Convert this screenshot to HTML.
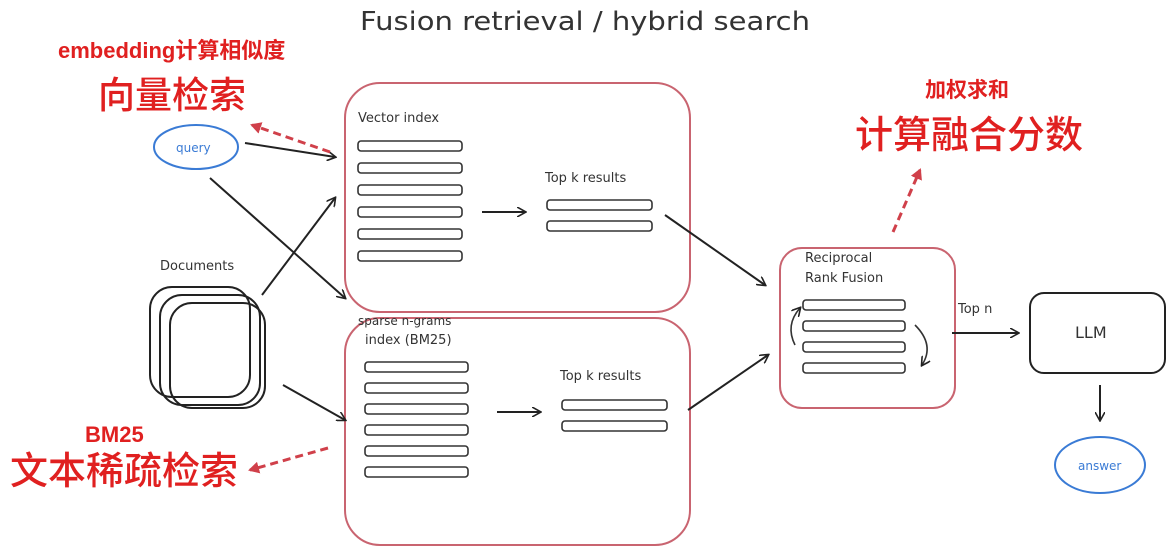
<!DOCTYPE html>
<html><head><meta charset="utf-8"><style>
html,body{margin:0;padding:0;background:#fff;width:1175px;height:551px;overflow:hidden}
svg{display:block}
.h{font-family:"DejaVu Sans","Liberation Sans",sans-serif;fill:#333}
.r{font-family:"Liberation Sans","Noto Sans CJK SC",sans-serif;fill:#e02020;font-weight:bold}
.rn{font-family:"Noto Sans CJK SC",sans-serif;fill:#e02020;font-weight:500}
</style></head><body>
<svg width="1175" height="551" viewBox="0 0 1175 551">
<defs>
<marker id="a" markerWidth="10" markerHeight="10" refX="8" refY="5" orient="auto" markerUnits="userSpaceOnUse"><path d="M0,0 L9,5 L0,10" fill="none" stroke="#222" stroke-width="1.6"/></marker>
<marker id="ra" markerWidth="12" markerHeight="12" refX="9" refY="6" orient="auto" markerUnits="userSpaceOnUse"><path d="M0,0 L11,6 L0,12 Z" fill="#d0404a"/></marker>
</defs>
<text x="360" y="30" class="h" font-size="26" textLength="450" lengthAdjust="spacingAndGlyphs">Fusion retrieval / hybrid search</text>
<text x="58" y="58" class="r" font-size="22">embedding计算相似度</text>
<text x="98" y="108" class="rn" font-size="37">向量检索</text>
<text x="925" y="97" class="r" font-size="21">加权求和</text>
<text x="855" y="148" class="rn" font-size="38">计算融合分数</text>
<text x="85" y="442" class="r" font-size="22">BM25</text>
<text x="10" y="484" class="rn" font-size="38">文本稀疏检索</text>

<ellipse cx="196" cy="147" rx="42" ry="22" fill="none" stroke="#3a7bd5" stroke-width="2"/>
<text x="176" y="152" class="h" font-size="12" style="fill:#3a7bd5">query</text>

<rect x="345" y="83" width="345" height="229" rx="35" fill="none" stroke="#c96470" stroke-width="2"/>
<text x="358" y="122" class="h" font-size="13">Vector index</text>
<g fill="none" stroke="#333" stroke-width="1.6">
<rect x="358" y="141" width="104" height="10" rx="3"/><rect x="358" y="163" width="104" height="10" rx="3"/><rect x="358" y="185" width="104" height="10" rx="3"/><rect x="358" y="207" width="104" height="10" rx="3"/><rect x="358" y="229" width="104" height="10" rx="3"/><rect x="358" y="251" width="104" height="10" rx="3"/>
<rect x="547" y="200" width="105" height="10" rx="3"/><rect x="547" y="221" width="105" height="10" rx="3"/>
</g>
<text x="545" y="182" class="h" font-size="13">Top k results</text>

<rect x="345" y="318" width="345" height="227" rx="35" fill="none" stroke="#c96470" stroke-width="2"/>
<text x="358" y="325" class="h" font-size="12">sparse n-grams</text>
<text x="365" y="344" class="h" font-size="13">index (BM25)</text>
<g fill="none" stroke="#333" stroke-width="1.6">
<rect x="365" y="362" width="103" height="10" rx="3"/><rect x="365" y="383" width="103" height="10" rx="3"/><rect x="365" y="404" width="103" height="10" rx="3"/><rect x="365" y="425" width="103" height="10" rx="3"/><rect x="365" y="446" width="103" height="10" rx="3"/><rect x="365" y="467" width="103" height="10" rx="3"/>
<rect x="562" y="400" width="105" height="10" rx="3"/><rect x="562" y="421" width="105" height="10" rx="3"/>
</g>
<text x="560" y="380" class="h" font-size="13">Top k results</text>

<text x="160" y="270" class="h" font-size="13">Documents</text>
<g fill="none" stroke="#222" stroke-width="2">
<rect x="150" y="287" width="100" height="110" rx="22"/><rect x="160" y="295" width="100" height="110" rx="22"/><rect x="170" y="303" width="95" height="105" rx="22"/>
</g>

<rect x="780" y="248" width="175" height="160" rx="22" fill="none" stroke="#c96470" stroke-width="2"/>
<text x="805" y="262" class="h" font-size="13">Reciprocal</text>
<text x="805" y="282" class="h" font-size="13">Rank Fusion</text>
<g fill="none" stroke="#333" stroke-width="1.6">
<rect x="803" y="300" width="102" height="10" rx="3"/><rect x="803" y="321" width="102" height="10" rx="3"/><rect x="803" y="342" width="102" height="10" rx="3"/><rect x="803" y="363" width="102" height="10" rx="3"/>
<path d="M795,345 Q785,325 800,308" marker-end="url(#a)"/>
<path d="M915,325 Q935,345 922,365" marker-end="url(#a)"/>
</g>
<text x="958" y="313" class="h" font-size="13">Top n</text>

<rect x="1030" y="293" width="135" height="80" rx="14" fill="none" stroke="#222" stroke-width="2"/>
<text x="1075" y="338" class="h" font-size="16">LLM</text>
<ellipse cx="1100" cy="465" rx="45" ry="28" fill="none" stroke="#3a7bd5" stroke-width="2"/>
<text x="1078" y="470" class="h" font-size="12" style="fill:#3a7bd5">answer</text>

<g stroke="#222" stroke-width="2" fill="none" marker-end="url(#a)">
<line x1="245" y1="143" x2="335" y2="157"/>
<line x1="210" y1="178" x2="345" y2="298"/>
<line x1="262" y1="295" x2="335" y2="198"/>
<line x1="283" y1="385" x2="345" y2="420"/>
<line x1="482" y1="212" x2="525" y2="212"/>
<line x1="497" y1="412" x2="540" y2="412"/>
<line x1="665" y1="215" x2="765" y2="285"/>
<line x1="688" y1="410" x2="768" y2="355"/>
<line x1="952" y1="333" x2="1018" y2="333"/>
<line x1="1100" y1="385" x2="1100" y2="420"/>
</g>
<g stroke="#d0404a" stroke-width="3" stroke-dasharray="8,5" fill="none" marker-end="url(#ra)">
<line x1="330" y1="152" x2="252" y2="125"/>
<line x1="328" y1="448" x2="250" y2="470"/>
<line x1="893" y1="232" x2="920" y2="170"/>
</g>
</svg>
</body></html>
